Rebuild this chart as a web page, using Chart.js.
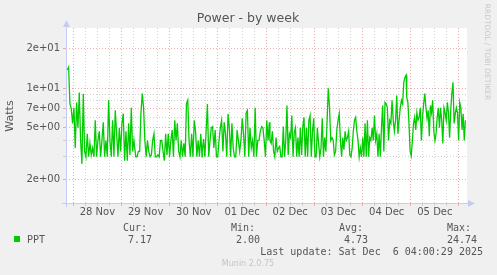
<!DOCTYPE html>
<html>
<head>
<meta charset="utf-8">
<script src="https://cdn.jsdelivr.net/npm/chart.js@4"></script>
<style>
  html, body { margin: 0; padding: 0; background: #f0f0f0; }
  #wrap { width: 497px; height: 275px; }
</style>
</head>
<body>
<div id="wrap"><canvas id="powerChart" width="497" height="275"></canvas></div>
<script>
/* ============================
   MUNIN "POWER - BY WEEK"
============================ */

// ---------- DATA ----------
// hours are counted from 28 Nov 00:00
const dayLabels = ["28 Nov", "29 Nov", "30 Nov", "01 Dec", "02 Dec", "03 Dec", "04 Dec", "05 Dec"];
const yTickValues = [2, 3, 4, 5, 6, 7, 8, 9, 10, 20];
const yTickText = ["2e+00", "", "", "5e+00", "", "7e+00", "", "", "1e+01", "2e+01"];
const yMajor = [2, 5, 7, 10, 20];

// samples, split into six stretches of time
const segStartHour = [-3.0, 31.1, 64.2, 97.9, 132.4, 166.0];
const segEndHour   = [30.2, 64.1, 97.6, 131.8, 165.7, 195.2];

const watts1 = [13.8, 14.5, 7.6, 7.0, 5.4, 7.1, 3.5, 7.8, 5.0, 9.3, 4.0, 2.65, 9.1, 3.3, 3.0, 4.5, 3.0, 3.8, 3.1, 3.5,
    3.0, 5.7, 3.0, 4.0, 4.7, 3.0, 4.0, 5.5, 3.0, 4.0, 3.0, 8.1, 4.0, 3.0, 5.7, 3.0, 6.8, 4.5, 3.0, 5.0,
    3.3, 5.4, 6.4, 2.8, 4.7, 2.8, 5.4, 3.1, 7.1, 3.3, 4.0];
const watts2 = [3.0, 3.0, 3.3, 3.3, 6.5, 9.1, 7.1, 4.0, 3.0, 4.0, 3.3, 3.0, 3.1, 4.0, 4.5, 3.0, 3.0, 3.1, 3.0, 4.0,
    4.0, 3.3, 2.8, 4.5, 3.1, 4.5, 3.0, 4.0, 4.8, 3.0, 5.7, 4.0, 5.4, 3.3, 3.0, 4.0, 3.0, 3.8, 3.0, 7.6,
    8.1, 4.0, 3.0, 4.5, 3.0, 5.7, 4.7, 3.0, 4.0, 3.0, 4.5, 3.0];
const watts3 = [3.3, 4.1, 3.0, 4.7, 7.6, 3.0, 4.0, 5.0, 5.1, 3.5, 4.8, 3.0, 3.0, 4.0, 5.0, 5.7, 3.3, 5.5, 4.5, 3.0,
    6.4, 5.0, 3.0, 5.4, 3.5, 3.0, 3.0, 4.8, 4.0, 3.3, 4.0, 5.9, 4.5, 3.0, 6.5, 6.8, 3.0, 5.0, 3.5, 4.0,
    3.0, 7.1, 3.0, 4.0, 4.0, 4.7, 5.1, 5.0, 4.0, 3.0, 5.7, 4.0, 5.5];
const watts4 = [4.0, 3.8, 4.7, 3.3, 3.0, 4.2, 3.3, 3.5, 3.6, 3.0, 3.0, 5.1, 3.0, 4.0, 7.4, 3.1, 4.5, 4.2, 6.2, 3.0,
    4.6, 5.0, 3.0, 4.2, 3.0, 5.0, 3.1, 5.1, 6.0, 3.0, 5.0, 3.0, 5.7, 6.2, 3.0, 4.7, 5.9, 3.0, 3.0, 5.0,
    3.8, 3.0, 3.5, 5.9, 3.0, 4.2, 3.3, 5.7, 10.0, 7.1, 4.0, 4.2, 4.0, 3.1, 3.3, 4.8, 5.7];
const watts5 = [6.4, 4.0, 3.0, 4.2, 3.4, 4.7, 4.0, 4.2, 4.7, 3.1, 3.0, 3.5, 4.7, 5.7, 6.0, 4.7, 4.0, 3.0, 3.5, 3.0,
    4.2, 3.0, 5.4, 3.0, 5.7, 3.0, 4.2, 4.0, 5.0, 4.0, 6.2, 4.0, 4.5, 3.0, 4.5, 3.0, 5.0, 7.4, 3.3, 7.8,
    7.6, 7.1, 4.0, 5.7, 5.4, 8.1, 5.7, 4.7, 5.7, 8.8, 4.5, 5.7, 7.1, 8.1, 7.6, 11.1, 12.1, 12.6];
const watts6 = [8.5, 7.8, 5.4, 3.3, 3.05, 4.0, 5.4, 6.0, 4.8, 6.5, 5.7, 6.0, 7.1, 4.0, 6.0, 7.6, 9.1, 7.1, 5.9, 6.8,
    4.3, 7.4, 6.5, 8.1, 4.7, 4.0, 4.5, 6.0, 7.1, 5.0, 7.1, 5.7, 3.8, 7.1, 6.5, 5.7, 7.8, 6.5, 4.2, 6.8,
    9.1, 11.1, 5.4, 6.4, 7.1, 6.5, 4.0, 7.8, 7.1, 4.8, 6.4, 4.0, 5.7];

const seriesName = "PPT";
const statLabels = ["Cur:", "Min:", "Avg:", "Max:"];
const statValues = ["7.17", "2.00", "4.73", "24.74"];
const lastUpdate = "Last update: Sat Dec  6 04:00:29 2025";

// ---------- BUILD POINTS ----------
function buildPoints() {
    const segs = [watts1, watts2, watts3, watts4, watts5, watts6];
    const pts = [];
    segs.forEach((arr, s) => {
        const step = (segEndHour[s] - segStartHour[s]) / (arr.length - 1);
        arr.forEach((w, i) => pts.push({ x: segStartHour[s] + i * step, y: w }));
    });
    return pts;
}

const FONT = "'DejaVu Sans', sans-serif";
const MONO = "'DejaVu Sans Mono', monospace";
const TEXT = "#555";
const AXIS = "#c4ccf4";
const RED_GRID = "rgba(230,140,140,0.7)";
const GREY_GRID = "rgba(195,195,195,0.75)";

// ---------- DECORATION (texts, axis arrows) ----------
const muninDecor = {
    id: "muninDecor",
    beforeDraw(chart) {
        const { ctx, chartArea: a } = chart;
        ctx.save();
        ctx.fillStyle = "#f0f0f0";
        ctx.fillRect(0, 0, chart.width, chart.height);
        ctx.fillStyle = "#ffffff";
        ctx.fillRect(a.left, a.top, a.right - a.left, a.bottom - a.top);
        ctx.restore();
    },
    afterDraw(chart) {
        const { ctx, chartArea: a } = chart;
        ctx.save();

        // axis lines + arrows
        const lx = a.left + 0.5, by = a.bottom + 0.5;
        ctx.strokeStyle = AXIS;
        ctx.lineWidth = 1;
        ctx.beginPath();
        ctx.moveTo(lx, a.top - 4);
        ctx.lineTo(lx, a.bottom + 4);
        ctx.moveTo(a.left - 4, by);
        ctx.lineTo(a.right + 3, by);
        ctx.stroke();
        ctx.fillStyle = AXIS;
        ctx.beginPath();
        ctx.moveTo(lx, a.top - 8);
        ctx.lineTo(lx - 3.5, a.top - 1);
        ctx.lineTo(lx + 3.5, a.top - 1);
        ctx.closePath();
        ctx.fill();
        ctx.beginPath();
        ctx.moveTo(a.right + 8, by);
        ctx.lineTo(a.right + 1, by - 3.5);
        ctx.lineTo(a.right + 1, by + 3.5);
        ctx.closePath();
        ctx.fill();

        // title
        ctx.fillStyle = TEXT;
        ctx.textAlign = "center";
        ctx.textBaseline = "middle";
        ctx.font = "12.5px " + FONT;
        ctx.fillText("Power - by week", 248, 19);

        // y axis title
        ctx.save();
        ctx.translate(10, 116);
        ctx.rotate(-Math.PI / 2);
        ctx.font = "11px " + FONT;
        ctx.fillText("Watts", 0, 0);
        ctx.restore();

        // rrdtool watermark
        ctx.save();
        ctx.translate(487, 52);
        ctx.rotate(Math.PI / 2);
        ctx.fillStyle = "#c8c8c8";
        ctx.font = "7.5px " + FONT;
        ctx.fillText("RRDTOOL / TOBI OETIKER", 0, 0);
        ctx.restore();

        // legend
        ctx.fillStyle = "#00cc00";
        ctx.fillRect(14, 236, 6, 6);
        ctx.fillStyle = TEXT;
        ctx.font = "10px " + MONO;
        ctx.textAlign = "left";
        ctx.fillText(seriesName, 27, 240);
        const headX = [123, 231, 339, 447];
        const valRight = [152, 260, 368, 477];
        statLabels.forEach((l, i) => {
            ctx.textAlign = "left";
            ctx.fillText(l, headX[i], 228);
            ctx.textAlign = "right";
            ctx.fillText(statValues[i], valRight[i], 240);
        });
        ctx.textAlign = "right";
        ctx.fillText(lastUpdate, 483, 252);

        ctx.textAlign = "center";
        ctx.fillStyle = "#c4c4c4";
        ctx.font = "8px " + FONT;
        ctx.fillText("Munin 2.0.75", 248, 264);

        ctx.restore();
    }
};

// ---------- CHART ----------
document.addEventListener("DOMContentLoaded", () => {
    const ctx = document.getElementById("powerChart");

    new Chart(ctx, {
        type: "line",
        data: {
            datasets: [{
                label: seriesName,
                data: buildPoints(),
                borderColor: "#00cc00",
                borderWidth: 1.3,
                pointRadius: 0,
                tension: 0,
                fill: false
            }]
        },
        options: {
            responsive: false,
            animation: false,
            layout: { padding: { top: 28, right: 30, left: 0, bottom: 0 } },
            plugins: {
                legend: { display: false },
                title: { display: false },
                tooltip: { enabled: false }
            },
            scales: {
                x: {
                    type: "linear",
                    min: -3.63,
                    max: 196.0,
                    afterBuildTicks: scale => {
                        const t = [];
                        for (let h = 0; h <= 192; h += 6) t.push({ value: h });
                        scale.ticks = t;
                    },
                    afterFit: scale => { scale.height = 72; },
                    ticks: {
                        autoSkip: false,
                        maxRotation: 0,
                        padding: 0,
                        color: TEXT,
                        font: { family: "DejaVu Sans", size: 10 },
                        callback: v => (v % 24 === 12 ? dayLabels[(v - 12) / 24] : "")
                    },
                    grid: {
                        color: c => (c.tick && c.tick.value % 24 === 0 ? RED_GRID : GREY_GRID),
                        lineWidth: 1,
                        tickLength: 3
                    },
                    border: { display: false, dash: [1, 2] }
                },
                y: {
                    type: "logarithmic",
                    min: 1.332,
                    max: 28.86,
                    afterBuildTicks: scale => {
                        scale.ticks = yTickValues.map(v => ({ value: v }));
                    },
                    afterFit: scale => { scale.width = 66; },
                    ticks: {
                        autoSkip: false,
                        padding: 3,
                        color: TEXT,
                        font: { family: "DejaVu Sans", size: 10 },
                        callback: v => {
                            const i = yTickValues.indexOf(v);
                            return i >= 0 ? yTickText[i] : "";
                        }
                    },
                    grid: {
                        color: c => (c.tick && yMajor.includes(c.tick.value) ? RED_GRID : GREY_GRID),
                        lineWidth: 1,
                        tickLength: 3
                    },
                    border: { display: false, dash: [1, 2] }
                }
            }
        },
        plugins: [muninDecor]
    });
});
</script>
</body>
</html>
